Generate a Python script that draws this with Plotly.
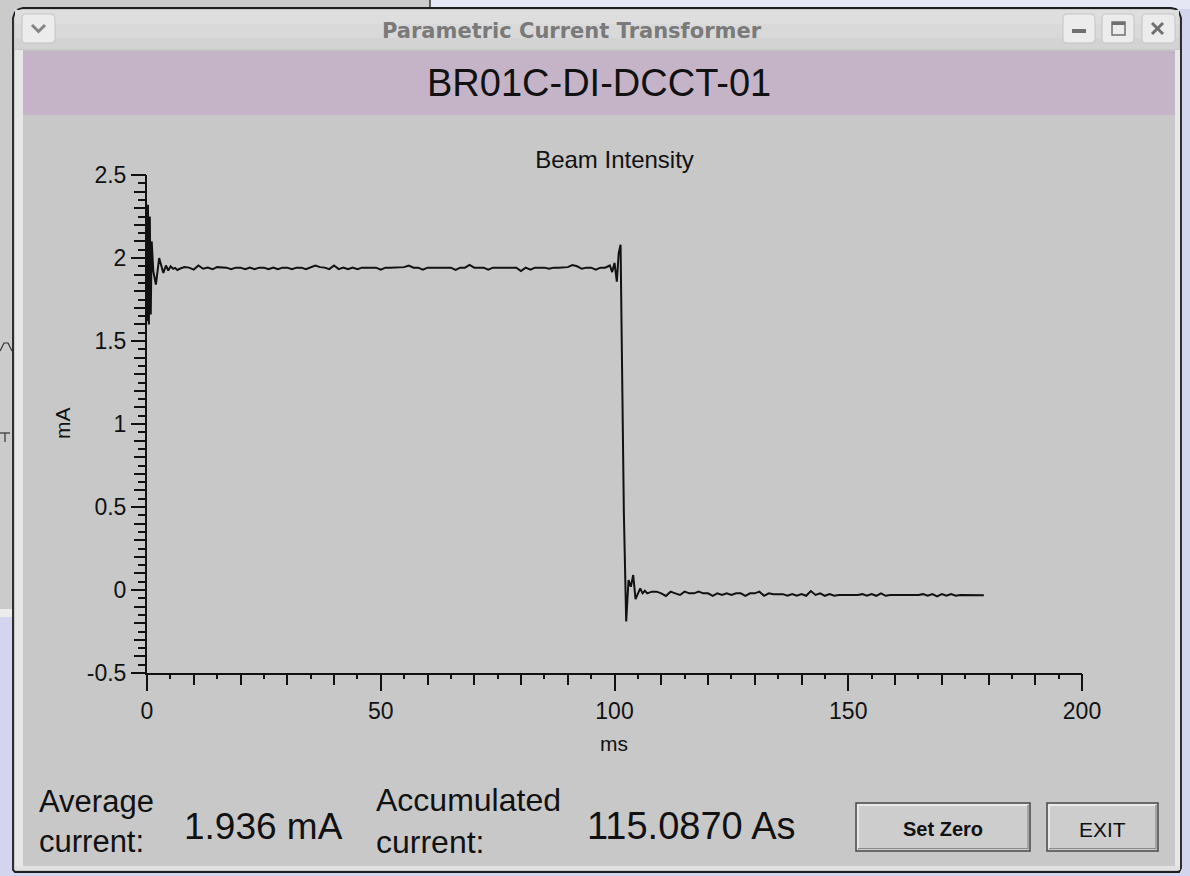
import plotly.graph_objects as go

# ---------------- data ----------------
t_start = [0.0, 0.2, 0.4, 0.6, 0.8, 1.0, 1.35, 1.9, 2.6, 3.1, 3.5, 4.05, 4.55, 5.05, 5.6, 6.0, 6.5]
v_start = [1.62, 2.32, 1.60, 2.25, 1.66, 2.10, 1.92, 1.84, 2.00, 1.945, 1.91, 1.955, 1.925, 1.95, 1.935, 1.94, 1.928]

t_plateau = list(range(7, 99))
v_plateau = [
    1.935, 1.945, 1.942, 1.930, 1.955, 1.935, 1.942, 1.932, 1.945, 1.942,   # 7-16
    1.942, 1.932, 1.942, 1.942, 1.932, 1.942, 1.932, 1.942, 1.942, 1.932,   # 17-26
    1.942, 1.932, 1.942, 1.942, 1.932, 1.942, 1.942, 1.932, 1.942, 1.955,   # 27-36
    1.945, 1.942, 1.933, 1.955, 1.933, 1.942, 1.933, 1.942, 1.933, 1.942,   # 37-46
    1.942, 1.942, 1.942, 1.930, 1.942, 1.942, 1.942, 1.942, 1.945, 1.955,   # 47-56
    1.942, 1.942, 1.930, 1.942, 1.942, 1.942, 1.942, 1.942, 1.942, 1.928,   # 57-66
    1.942, 1.942, 1.958, 1.942, 1.942, 1.942, 1.930, 1.942, 1.942, 1.942,   # 67-76
    1.942, 1.942, 1.942, 1.922, 1.942, 1.930, 1.942, 1.942, 1.942, 1.935,   # 77-86
    1.942, 1.942, 1.942, 1.945, 1.958, 1.950, 1.935, 1.942, 1.942, 1.930,   # 87-96
    1.942, 1.942,                                                           # 97-98
]

t_drop = [99.0, 99.5, 100.0, 100.5, 100.9, 101.3, 101.5, 102.0, 102.5, 103.0, 103.5,
          104.0, 104.5, 105.0, 105.5, 106.0, 106.5, 107.0]
v_drop = [1.955, 1.915, 1.97, 1.857, 2.03, 2.08, 1.61, 0.47, -0.19, 0.06, 0.02,
          0.09, -0.055, -0.02, 0.01, -0.02, -0.005, -0.02]

t_after = list(range(108, 180))
v_after = [
    -0.010, -0.010, -0.020, -0.036, -0.010, -0.020, -0.030, -0.010, -0.020, -0.020,  # 108-117
    -0.010, -0.020, -0.020, -0.035, -0.020, -0.030, -0.020, -0.030, -0.020, -0.020,  # 118-127
    -0.035, -0.020, -0.020, -0.010, -0.035, -0.020, -0.025, -0.025, -0.025, -0.035,  # 128-137
    -0.025, -0.035, -0.025, -0.035, -0.006, -0.030, -0.020, -0.035, -0.025, -0.035,  # 138-147
    -0.030, -0.030, -0.030, -0.030, -0.030, -0.025, -0.035, -0.025, -0.035, -0.020,  # 148-157
    -0.035, -0.030, -0.030, -0.030, -0.030, -0.030, -0.030, -0.030, -0.025, -0.035,  # 158-167
    -0.025, -0.038, -0.025, -0.035, -0.025, -0.035, -0.030, -0.030, -0.030, -0.030,  # 168-177
    -0.030, -0.032,                                                                  # 178-179
]

assert len(t_plateau) == len(v_plateau)
assert len(t_after) == len(v_after)

time_ms = t_start + t_plateau + t_drop + t_after
current_mA = v_start + v_plateau + v_drop + v_after

x_major = [0, 50, 100, 150, 200]
x_major_text = ["0", "50", "100", "150", "200"]
x_mid = list(range(0, 201, 10))
y_major = [-0.5, 0, 0.5, 1, 1.5, 2, 2.5]
y_major_text = ["-0.5", "0", "0.5", "1", "1.5", "2", "2.5"]
y_mid = [round(-0.5 + 0.1 * i, 2) for i in range(31)]

window_title = "Parametric Current Transformer"
device_name = "BR01C-DI-DCCT-01"
chart_title = "Beam Intensity"
avg_label = "Average<br>current:"
acc_label = "Accumulated<br>current:"
avg_value = "1.936 mA"
acc_value = "115.0870 As"

# ---------------- geometry helpers (pixels -> paper) ----------------
W, H = 1190, 876
L, R, T, B = 147, 1082, 175, 673
PW, PH = R - L, B - T


def px(x):
    return (x - L) / PW


def py(y):
    return (B - y) / PH


def rect(x0, y0, x1, y1, fill, line=None, lw=0, layer="below"):
    return dict(type="rect", xref="paper", yref="paper",
                x0=px(x0), x1=px(x1), y0=py(y1), y1=py(y0),
                fillcolor=fill, line=dict(color=line or fill, width=lw), layer=layer)


def path(d_pts, color, lw=1, fill=None, close=False, layer="below"):
    s = "M " + " L ".join(f"{px(a):.5f},{py(b):.5f}" for a, b in d_pts)
    if close:
        s += " Z"
    return dict(type="path", xref="paper", yref="paper", path=s,
                line=dict(color=color, width=lw), fillcolor=fill or "rgba(0,0,0,0)",
                layer=layer)


GRAY = "#c8c8c8"
LAV = "#d3d5ee"
SANS = "Liberation Sans, Arial, Helvetica, sans-serif"
INK = "#111111"

shapes = []
# desktop background & other window
shapes.append(rect(0, 0, W, H, LAV))
shapes.append(rect(430, 0, W, 9, "#e6e7f4"))
shapes.append(rect(0, 0, 430, 9, "#cbcbcb"))
shapes.append(rect(0, 0, 14, 609, "#cbcbcb"))
shapes.append(rect(0, 609, 14, 617, "#ececec"))
shapes.append(path([(430, 0), (430, 9)], "#333333", 1.5))
shapes.append(path([(0, 351), (4, 343), (8, 343), (12, 351)], "#333333", 1.2))
shapes.append(path([(0, 433), (10, 433)], "#333333", 1.2))
shapes.append(path([(5, 433), (5, 442)], "#333333", 1.2))

# window body
win = [(13, 870), (13, 18), (15, 12), (19, 9), (23, 8), (1171, 8), (1176, 9), (1179, 12),
       (1181, 18), (1181, 868), (1179, 872), (15, 872)]
shapes.append(path(win, "#1e1e1e", 1.8, fill=GRAY, close=True))
# title bar (stepped gradient)
shapes.append(rect(15, 10, 1179, 24, "#dedede"))
shapes.append(rect(15, 24, 1179, 38, "#d9d9d9"))
shapes.append(rect(15, 38, 1179, 50, "#d3d3d3"))
shapes.append(path([(15, 50), (1179, 50)], "#bdbdbd", 1))
# side highlight strips
shapes.append(rect(15, 50, 23, 868, "#e7e7e7"))
shapes.append(rect(1175, 50, 1180, 868, "#e7e7e7"))
shapes.append(rect(15, 866, 1180, 870, "#e2e2e2"))
# purple header band
shapes.append(rect(23, 51, 1175, 115, "#c5b4c7"))

# title bar buttons
for (x0, x1) in [(22, 55), (1063, 1095), (1102, 1134), (1142, 1175)]:
    shapes.append(dict(type="path", xref="paper", yref="paper",
                       path=(f"M {px(x0+4):.5f},{py(14):.5f} L {px(x1-4):.5f},{py(14):.5f} "
                             f"Q {px(x1):.5f},{py(14):.5f} {px(x1):.5f},{py(18):.5f} "
                             f"L {px(x1):.5f},{py(39):.5f} Q {px(x1):.5f},{py(43):.5f} {px(x1-4):.5f},{py(43):.5f} "
                             f"L {px(x0+4):.5f},{py(43):.5f} Q {px(x0):.5f},{py(43):.5f} {px(x0):.5f},{py(39):.5f} "
                             f"L {px(x0):.5f},{py(18):.5f} Q {px(x0):.5f},{py(14):.5f} {px(x0+4):.5f},{py(14):.5f} Z"),
                       fillcolor="#ececec", line=dict(color="#c4c4c4", width=1), layer="below"))
shapes.append(path([(32, 25), (38.5, 31.5), (45, 25)], "#858585", 3))
shapes.append(rect(1072, 29, 1086, 33, "#707070"))
shapes.append(rect(1112, 22, 1125, 35, "rgba(0,0,0,0)", "#707070", 1.5))
shapes.append(rect(1112, 22, 1125, 25, "#707070"))
shapes.append(path([(1152, 23), (1163, 34)], "#707070", 3))
shapes.append(path([(1152, 34), (1163, 23)], "#707070", 3))

# push buttons
for (x0, x1) in [(856, 1030), (1047, 1158)]:
    shapes.append(rect(x0, 803, x1, 851, "#cdcdcd", "#4a4a4a", 1.5))
    shapes.append(path([(x0 + 2, 849), (x0 + 2, 805), (x1 - 2, 805)], "#f2f2f2", 1.5))
    shapes.append(path([(x0 + 2, 848.5), (x1 - 2, 848.5), (x1 - 2, 805)], "#8a8a8a", 1.2))

annotations = [
    dict(text="<b>" + window_title + "</b>", x=px(572), y=py(31),
         font=dict(family="DejaVu Sans, sans-serif", size=21, color="#7a7a7a"),
         xanchor="center", yanchor="middle"),
    dict(text=device_name, x=px(599), y=py(83), font=dict(family=SANS, size=38, color=INK),
         xanchor="center", yanchor="middle"),
    dict(text="mA", x=px(62), y=py(423), textangle=-90, font=dict(family=SANS, size=21, color=INK),
         xanchor="center", yanchor="middle"),
    dict(text="ms", x=px(614), y=py(743), font=dict(family=SANS, size=21, color=INK),
         xanchor="center", yanchor="middle"),
    dict(text=avg_label, x=px(38), y=py(821), font=dict(family=SANS, size=31, color=INK),
         xanchor="left", yanchor="middle", align="left", borderpad=0),
    dict(text=avg_value, x=px(183), y=py(826), font=dict(family=SANS, size=37, color=INK),
         xanchor="left", yanchor="middle", borderpad=0),
    dict(text=acc_label, x=px(375), y=py(821), font=dict(family=SANS, size=32, color=INK),
         xanchor="left", yanchor="middle", align="left", borderpad=0),
    dict(text=acc_value, x=px(586), y=py(826), font=dict(family=SANS, size=38, color=INK),
         xanchor="left", yanchor="middle", borderpad=0),
    dict(text="<b>Set Zero</b>", x=px(943), y=py(829), font=dict(family=SANS, size=20, color=INK),
         xanchor="center", yanchor="middle"),
    dict(text="EXIT", x=px(1102), y=py(829), font=dict(family=SANS, size=21, color=INK),
         xanchor="center", yanchor="middle"),
]
for a in annotations:
    a.update(xref="paper", yref="paper", showarrow=False)

fig = go.Figure()
fig.add_trace(go.Scatter(x=time_ms, y=current_mA, mode="lines",
                         line=dict(color=INK, width=2), hoverinfo="skip",
                         showlegend=False))
# empty trace to register the overlay axes
fig.add_trace(go.Scatter(x=[None], y=[None], xaxis="x2", yaxis="y2", showlegend=False,
                         hoverinfo="skip"))

tickfont = dict(family=SANS, size=23, color=INK)
fig.update_layout(
    width=W, height=H,
    margin=dict(l=L, r=W - R, t=T, b=H - B, pad=0),
    paper_bgcolor=LAV,
    plot_bgcolor="rgba(0,0,0,0)",
    showlegend=False,
    title=dict(text=chart_title, x=0.5, xref="paper", xanchor="center",
               y=1 - 160 / H, yref="container", yanchor="middle",
               font=dict(family=SANS, size=24, color=INK)),
    xaxis=dict(range=[0, 200], tickmode="array", tickvals=x_mid, showticklabels=False,
               ticks="outside", ticklen=10, tickwidth=2, tickcolor=INK,
               minor=dict(dtick=5, tick0=0, ticks="outside", ticklen=4, tickwidth=2, tickcolor=INK),
               showline=True, linecolor=INK, linewidth=2, showgrid=False, zeroline=False,
               fixedrange=True),
    xaxis2=dict(range=[0, 200], overlaying="x", anchor="y", side="bottom",
                tickmode="array", tickvals=x_major, ticktext=x_major_text,
                ticks="outside", ticklen=17, tickwidth=2, tickcolor=INK,
                tickfont=tickfont, showline=False, showgrid=False, zeroline=False),
    yaxis=dict(range=[-0.5, 2.5], tickmode="array", tickvals=y_mid, showticklabels=False,
               ticks="outside", ticklen=11, tickwidth=2, tickcolor=INK,
               minor=dict(dtick=0.05, tick0=0, ticks="outside", ticklen=7, tickwidth=2, tickcolor=INK),
               showline=True, linecolor=INK, linewidth=2, showgrid=False, zeroline=False,
               fixedrange=True),
    yaxis2=dict(range=[-0.5, 2.5], overlaying="y", anchor="x", side="left",
                tickmode="array", tickvals=y_major, ticktext=y_major_text,
                ticks="outside", ticklen=15, tickwidth=2, tickcolor=INK,
                tickfont=tickfont, showline=False, showgrid=False, zeroline=False),
    shapes=shapes,
    annotations=annotations,
)

fig.write_html("out.html")
